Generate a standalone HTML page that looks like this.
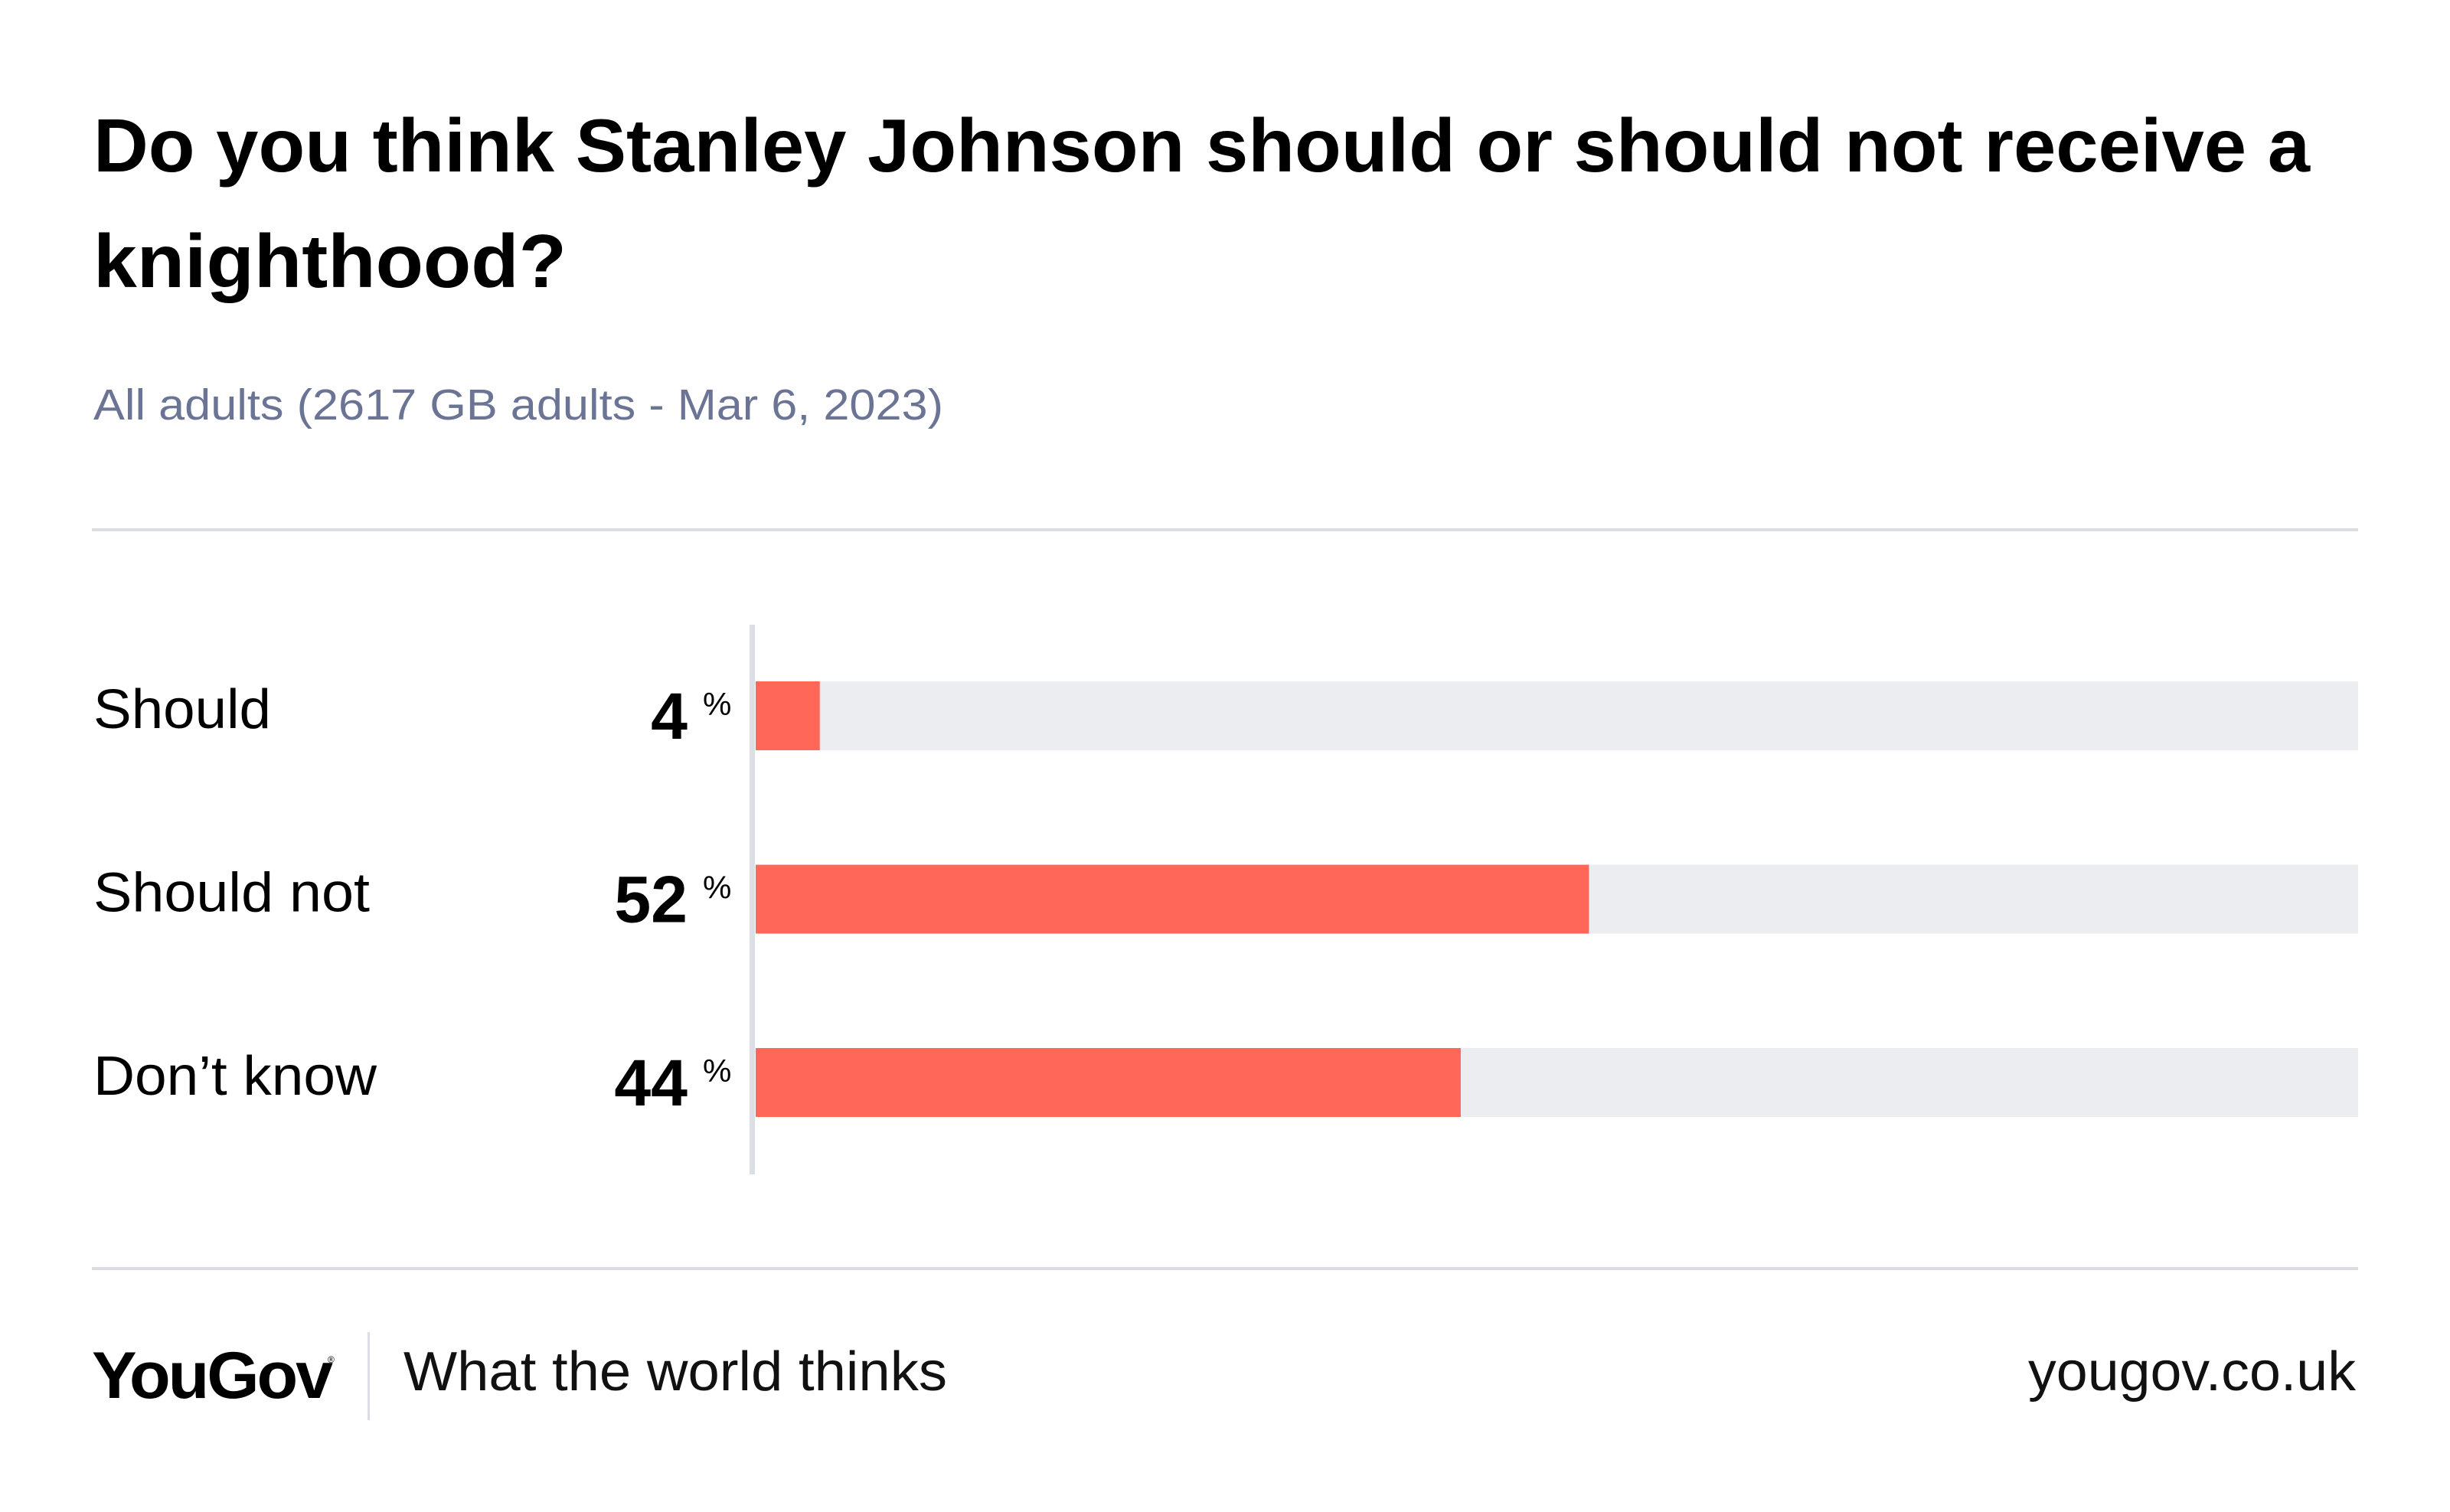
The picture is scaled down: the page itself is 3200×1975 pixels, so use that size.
<!DOCTYPE html>
<html><head><meta charset="utf-8"><style>
html,body{margin:0;padding:0;background:#fff;}
svg{display:block;font-family:"Liberation Sans",sans-serif;}
</style></head><body>
<svg width="3200" height="1975" viewBox="0 0 3200 1975" xmlns="http://www.w3.org/2000/svg">
<rect width="3200" height="1975" fill="#fff"/>
<text x="122" y="224" font-size="98" font-weight="bold" fill="#000" textLength="2895" lengthAdjust="spacingAndGlyphs">Do you think Stanley Johnson should or should not receive a</text>
<text x="122" y="375" font-size="98" font-weight="bold" fill="#000" textLength="618" lengthAdjust="spacingAndGlyphs">knighthood?</text>
<text x="122" y="548" font-size="57" fill="#6b7494" textLength="1110" lengthAdjust="spacingAndGlyphs">All adults (2617 GB adults - Mar 6, 2023)</text>
<rect x="120" y="690" width="2960" height="4" fill="#dcdde2"/>
<g id="bars"></g>
<rect x="979" y="816" width="7" height="718" fill="#dcdfe6"/>
<rect x="120" y="1655" width="2960" height="4" fill="#dcdde2"/>
<text x="120" y="1826" font-size="86" font-weight="bold" fill="#000" textLength="312" lengthAdjust="spacingAndGlyphs" letter-spacing="-3">YouGov</text>
<text x="428" y="1780" font-size="12" fill="#000">®</text>
<rect x="480" y="1740" width="3" height="115" fill="#dcdde2"/>
<text x="527" y="1816" font-size="72" fill="#111" textLength="710" lengthAdjust="spacingAndGlyphs">What the world thinks</text>
<text x="3077" y="1816" font-size="72" fill="#111" text-anchor="end" textLength="428" lengthAdjust="spacingAndGlyphs">yougov.co.uk</text>
</svg>
<script>
const categories = ["Should", "Should not", "Don\u2019t know"];
const values = [4, 52, 44];
const valueLabels = ["4", "52", "44"];
const labelWidths = [232, 361, 370];
const NS = "http://www.w3.org/2000/svg";
const g = document.getElementById("bars");
const x0 = 987, x1 = 3080;
const xScale = v => x0 + (x1 - x0) * v / 100;
const rowTop = i => 890 + i * 239.5;
const barH = 90;
function mk(tag, attrs){const e=document.createElementNS(NS,tag);for(const k in attrs)e.setAttribute(k,attrs[k]);return e;}
categories.forEach((c, i) => {
  const y = rowTop(i);
  const track = mk("rect", {x: x0, y: y, width: x1 - x0, height: barH, fill: "#ecedf1"});
  
  
  g.appendChild(track);
  const bar = mk("rect", {x: x0, y: y, width: xScale(values[i]) - x0, height: barH, fill: "#ff6859"});
  
  
  g.appendChild(bar);
  const lab = mk("text", {x: 122, y: y + 61, "font-size": 72, fill: "#000", textLength: labelWidths[i], lengthAdjust: "spacingAndGlyphs"});
  lab.textContent = c;
  
  
  g.appendChild(lab);
  const val = mk("text", {x: 898, y: y + 75, "font-size": 86, "font-weight": "bold", fill: "#000", "text-anchor": "end"});
  val.textContent = valueLabels[i];
  
  
  g.appendChild(val);
  const pct = mk("text", {x: 918, y: y + 44, "font-size": 42, fill: "#000"});
  pct.textContent = "%";
  
  
  g.appendChild(pct);
});
</script>
</body></html>
